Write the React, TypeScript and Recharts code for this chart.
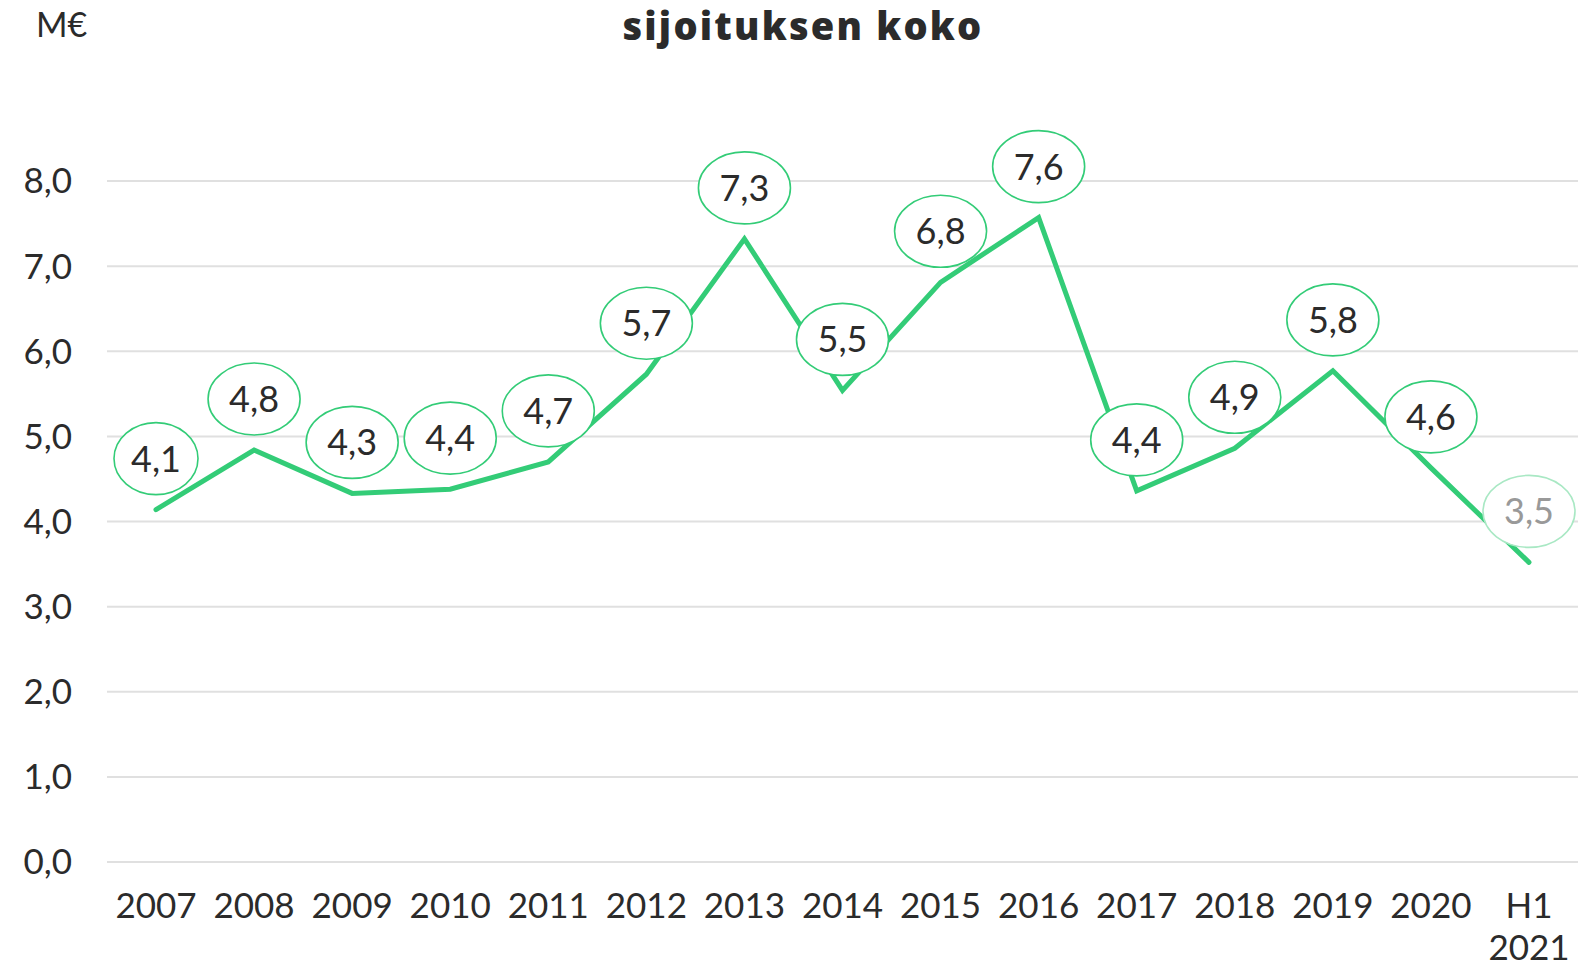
import { LineChart, Line, XAxis, YAxis, CartesianGrid, LabelList } from 'recharts';

const years = ['2007', '2008', '2009', '2010', '2011', '2012', '2013', '2014', '2015', '2016', '2017', '2018', '2019', '2020', 'H1 2021'];
const sizes = [4.14, 4.84, 4.33, 4.38, 4.7, 5.73, 7.32, 5.54, 6.81, 7.57, 4.36, 4.86, 5.77, 4.63, 3.52];
const yTicks = [0, 1, 2, 3, 4, 5, 6, 7, 8];

const data = years.map((year, i) => ({ year, size: sizes[i] }));

const FONT = 'Lato, "Noto Sans", sans-serif';
const GREEN = '#33cc77';
const TEXT = '#2b2b2b';

const fmt = (v: number) => v.toFixed(1).replace('.', ',');

function YearTick({ x, y, payload }: any) {
  const lines = String(payload.value).split(' ');
  return (
    <text x={x} y={y} textAnchor="middle" fill={TEXT} fontSize={35} fontFamily={FONT}>
      {lines.map((l, i) => (
        <tspan key={i} x={x} dy={i === 0 ? '0.71em' : 42}>
          {l}
        </tspan>
      ))}
    </text>
  );
}

function BubbleLabel({ x, y, value, index }: any) {
  const last = index === sizes.length - 1;
  const txt = fmt(value);
  const ones = txt.split('').filter((c) => c === '1').length;
  const rx = 46 - ones * 4;
  const cy = y - 51;
  return (
    <g>
      <ellipse cx={x} cy={cy} rx={rx} ry={36} fill="#fff" stroke={last ? '#a9e8c4' : GREEN} strokeWidth={1.6} />
      <text x={x} y={cy} dy="0.36em" textAnchor="middle" fill={last ? '#999' : TEXT} fontSize={36} fontFamily={FONT}>
        {txt}
      </text>
    </g>
  );
}

export default function App() {
  return (
    <div style={{ position: 'absolute', left: 0, top: 0, width: 1583, height: 966, overflow: 'hidden', background: '#fff' }}>
      <LineChart width={1583} height={966} data={data} margin={{ top: 181, right: 5, bottom: 44, left: 27 }}>
        <CartesianGrid horizontal vertical={false} stroke="#e0e0e0" strokeWidth={2} />
        <XAxis
          dataKey="year"
          axisLine={false}
          tickLine={false}
          tickMargin={25}
          height={60}
          interval={0}
          padding={{ left: 49, right: 49 }}
          tick={<YearTick />}
        />
        <YAxis
          domain={[0, 8]}
          ticks={yTicks}
          width={80}
          axisLine={false}
          tickLine={false}
          tickMargin={29}
          tickFormatter={fmt}
          tick={{ fill: TEXT, fontSize: 35, fontFamily: FONT }}
        />
        <Line
          type="linear"
          dataKey="size"
          stroke={GREEN}
          strokeWidth={5}
          strokeLinecap="round"
          strokeLinejoin="miter"
          dot={false}
          activeDot={false}
          isAnimationActive={false}
        >
          <LabelList dataKey="size" content={<BubbleLabel />} />
        </Line>
      </LineChart>
      <svg width={1583} height={966} style={{ position: 'absolute', left: 0, top: 0, pointerEvents: 'none' }}>
        <text
          x={803}
          y={40}
          textAnchor="middle"
          fill={TEXT}
          fontSize={38}
          fontWeight={800}
          letterSpacing={2.2}
          fontFamily='"Open Sans", sans-serif'
        >
          sijoituksen koko
        </text>
        <text x={36} y={37} fill={TEXT} fontSize={34} fontFamily={FONT}>
          M€
        </text>
      </svg>
    </div>
  );
}
